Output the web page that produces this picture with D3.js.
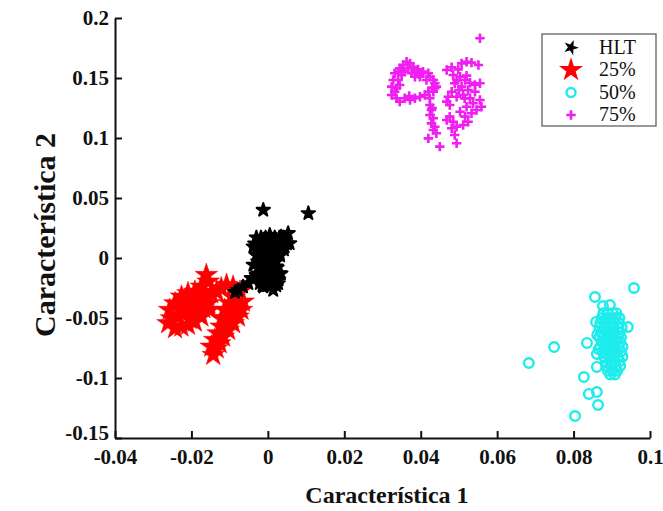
<!DOCTYPE html>
<html><head><meta charset="utf-8">
<script src="https://cdn.jsdelivr.net/npm/d3@7"></script>
<style>body{margin:0;background:#fff}svg{display:block}</style>
</head><body>
<svg id="c" width="663" height="511"></svg>
<script>
const xTicks = [-0.04,-0.02,0,0.02,0.04,0.06,0.08,0.1];
const xTickLabels = ["-0.04","-0.02","0","0.02","0.04","0.06","0.08","0.1"];
const yTicks = [-0.15,-0.1,-0.05,0,0.05,0.1,0.15,0.2];
const yTickLabels = ["-0.15","-0.1","-0.05","0","0.05","0.1","0.15","0.2"];
const seriesNames = ["HLT","25%","50%","75%"];
const xTitle = "Característica 1";
const yTitle = "Característica 2";

const hlt = [[-0.0012,0.0400],[0.0106,0.0372],[0.0005,0.0192],[0.0035,0.0178],[0.0053,0.0206],[0.0057,0.0122],[0.0044,0.0094],[0.0022,0.0150],[-0.0021,0.0136],[-0.0038,0.0094],[-0.0012,0.0094],[0.0014,0.0094],[-0.0004,0.0039],[-0.0030,0.0025],[-0.0017,-0.0017],[0.0014,0.0011],[0.0031,0.0039],[0.0005,-0.0044],[-0.0021,-0.0072],[-0.0038,-0.0058],[-0.0004,-0.0114],[0.0022,-0.0072],[0.0031,-0.0128],[0.0014,-0.0169],[-0.0012,-0.0169],[-0.0030,-0.0142],[0.0005,-0.0225],[0.0027,-0.0211],[-0.0012,-0.0239],[0.0014,-0.0267],[-0.0021,-0.0211],[-0.0043,-0.0169],[-0.0051,-0.0211],[-0.0065,-0.0239],[-0.0078,-0.0267],[-0.0086,-0.0285],
[-0.0030,0.017],[-0.0018,0.017],[-0.0006,0.017],[0.0006,0.017],[0.0018,0.017],[0.0030,0.017],[0.0042,0.017],
[-0.0034,0.012],[-0.0022,0.012],[-0.0010,0.012],[0.0002,0.012],[0.0014,0.012],[0.0026,0.012],[0.0038,0.012],[0.0050,0.012],
[-0.0030,0.007],[-0.0018,0.007],[-0.0006,0.007],[0.0006,0.007],[0.0018,0.007],[0.0030,0.007],[0.0042,0.007],
[-0.0028,0.002],[-0.0016,0.002],[-0.0004,0.002],[0.0008,0.002],[0.0020,0.002],[0.0032,0.002],
[-0.0026,-0.003],[-0.0014,-0.003],[-0.0002,-0.003],[0.0010,-0.003],[0.0022,-0.003],
[-0.0024,-0.008],[-0.0012,-0.008],[0.0000,-0.008],[0.0012,-0.008],[0.0024,-0.008],
[-0.0024,-0.013],[-0.0012,-0.013],[0.0000,-0.013],[0.0012,-0.013],[0.0024,-0.013],[0.0034,-0.013],
[-0.0020,-0.018],[-0.0008,-0.018],[0.0004,-0.018],[0.0016,-0.018],[0.0028,-0.018],
[-0.0014,-0.023],[-0.0002,-0.023],[0.0010,-0.023],[0.0022,-0.023]];

const p25 = [[-0.0161,-0.0142],[-0.0156,-0.0197],[-0.0174,-0.0239],[-0.0191,-0.0281],[-0.0209,-0.0294],[-0.0226,-0.0322],[-0.0243,-0.0378],[-0.0257,-0.0433],[-0.0252,-0.0503],[-0.0261,-0.0544],[-0.0243,-0.0586],[-0.0226,-0.0572],[-0.0209,-0.0558],[-0.0191,-0.0531],[-0.0174,-0.0489],[-0.0200,-0.0461],[-0.0222,-0.0433],[-0.0235,-0.0489],[-0.0213,-0.0378],[-0.0182,-0.0350],[-0.0165,-0.0294],[-0.0156,-0.0378],[-0.0152,-0.0433],[-0.0169,-0.0419],[-0.0187,-0.0406],[-0.0148,-0.0294],[-0.0134,-0.0281],[-0.0122,-0.0253],[-0.0108,-0.0225],[-0.0091,-0.0239],[-0.0073,-0.0281],[-0.0065,-0.0364],[-0.0069,-0.0433],[-0.0078,-0.0489],[-0.0091,-0.0544],[-0.0104,-0.0600],[-0.0117,-0.0656],[-0.0126,-0.0711],[-0.0134,-0.0753],[-0.0143,-0.0808],[-0.0122,-0.0572],[-0.0108,-0.0517],[-0.0095,-0.0461],[-0.0082,-0.0406],[-0.0100,-0.0378],[-0.0113,-0.0433],[-0.0130,-0.0628],[-0.0139,-0.0683],[-0.0148,-0.0739],[-0.0205,-0.0510],[-0.0230,-0.0410],[-0.0180,-0.0450],[-0.0120,-0.0500],[-0.0088,-0.0330]];

const p50 = [[0.0958,-0.0250],[0.0856,-0.0325],[0.0877,-0.0400],[0.0942,-0.0575],[0.0835,-0.0708],[0.0749,-0.0742],[0.0683,-0.0875],[0.0861,-0.0800],[0.0861,-0.0908],[0.0827,-0.0992],[0.0840,-0.1133],[0.0861,-0.1117],[0.0864,-0.1225],[0.0804,-0.1317],[0.0895,-0.0392],[0.0859,-0.0533],[0.0862,-0.0640],[0.0866,-0.0760],
[0.0878,-0.046],[0.0890,-0.046],[0.0902,-0.046],[0.0912,-0.046],
[0.0874,-0.050],[0.0886,-0.050],[0.0898,-0.050],[0.0910,-0.050],[0.0920,-0.050],
[0.0870,-0.054],[0.0882,-0.054],[0.0894,-0.054],[0.0906,-0.054],[0.0918,-0.054],
[0.0868,-0.058],[0.0880,-0.058],[0.0892,-0.058],[0.0904,-0.058],[0.0916,-0.058],[0.0926,-0.058],
[0.0872,-0.062],[0.0884,-0.062],[0.0896,-0.062],[0.0908,-0.062],[0.0920,-0.062],
[0.0868,-0.066],[0.0878,-0.066],[0.0890,-0.066],[0.0902,-0.066],[0.0914,-0.066],[0.0924,-0.066],
[0.0874,-0.070],[0.0886,-0.070],[0.0898,-0.070],[0.0910,-0.070],[0.0922,-0.070],
[0.0870,-0.074],[0.0882,-0.074],[0.0894,-0.074],[0.0906,-0.074],[0.0918,-0.074],[0.0928,-0.074],
[0.0876,-0.078],[0.0888,-0.078],[0.0900,-0.078],[0.0912,-0.078],[0.0924,-0.078],
[0.0880,-0.082],[0.0892,-0.082],[0.0904,-0.082],[0.0916,-0.082],[0.0928,-0.082],
[0.0884,-0.086],[0.0896,-0.086],[0.0908,-0.086],[0.0920,-0.086],
[0.0886,-0.090],[0.0898,-0.090],[0.0910,-0.090],[0.0922,-0.090],
[0.0890,-0.094],[0.0902,-0.094],[0.0914,-0.094],
[0.0896,-0.097],[0.0908,-0.097]];

const p75 = [[0.0363,0.1636],[0.0354,0.1608],[0.0372,0.1622],[0.0345,0.1581],[0.0380,0.1594],[0.0367,0.1581],[0.0393,0.1572],[0.0389,0.1553],[0.0406,0.1553],[0.0420,0.1539],[0.0424,0.1511],[0.0433,0.1483],[0.0437,0.1456],[0.0441,0.1428],[0.0332,0.1539],[0.0328,0.1483],[0.0324,0.1428],[0.0332,0.1386],[0.0324,0.1358],[0.0337,0.1331],[0.0345,0.1303],[0.0358,0.1331],[0.0372,0.1317],[0.0385,0.1331],[0.0398,0.1344],[0.0411,0.1358],[0.0424,0.1331],[0.0420,0.1386],[0.0433,0.1386],[0.0437,0.1414],[0.0341,0.1553],[0.0350,0.1525],[0.0358,0.1553],[0.0376,0.1539],[0.0385,0.1511],[0.0398,0.1511],[0.0415,0.1483],[0.0341,0.1483],[0.0345,0.1442],[0.0337,0.1414],[0.0424,0.1275],[0.0428,0.1233],[0.0424,0.1192],[0.0433,0.1164],[0.0428,0.1122],[0.0437,0.1094],[0.0433,0.1067],[0.0441,0.1039],[0.0420,0.0997],[0.0450,0.0928],[0.0494,0.0956],[0.0489,0.1025],[0.0481,0.1081],[0.0468,0.1150],[0.0476,0.1178],[0.0468,0.1567],[0.0481,0.1589],[0.0498,0.1572],[0.0507,0.1622],[0.0520,0.1636],[0.0533,0.1628],[0.0551,0.1608],[0.0485,0.1525],[0.0503,0.1511],[0.0516,0.1483],[0.0529,0.1461],[0.0542,0.1442],[0.0555,0.1456],[0.0489,0.1456],[0.0507,0.1428],[0.0524,0.1400],[0.0542,0.1386],[0.0555,0.1317],[0.0559,0.1261],[0.0481,0.1386],[0.0472,0.1344],[0.0468,0.1303],[0.0476,0.1275],[0.0494,0.1344],[0.0511,0.1358],[0.0529,0.1331],[0.0537,0.1289],[0.0520,0.1261],[0.0503,0.1219],[0.0516,0.1178],[0.0533,0.1206],[0.0546,0.1233],[0.0524,0.1136],[0.0511,0.1108],[0.0485,0.1136],[0.0494,0.1094],[0.0555,0.1831],[0.0350,0.1570],[0.0395,0.1530],[0.0430,0.1420],[0.0500,0.1400],[0.0515,0.1330],[0.0495,0.1480],[0.0430,0.1250],[0.0520,0.1520],[0.0370,0.1350]];

const svg = d3.select("#c");
const font = "'Liberation Serif','Times New Roman',serif";
const x = d3.scaleLinear().domain([-0.04,0.1]).range([115,650]);
const y = d3.scaleLinear().domain([-0.15,0.2]).range([438,18]);

const xAxis = d3.axisBottom(x).tickValues(xTicks).tickFormat((d,i)=>xTickLabels[i]).tickSizeInner(-7).tickSizeOuter(0).tickPadding(11);
const yAxis = d3.axisLeft(y).tickValues(yTicks).tickFormat((d,i)=>yTickLabels[i]).tickSizeInner(-7).tickSizeOuter(0).tickPadding(6);
const gx = svg.append("g").attr("transform","translate(0,438)").call(xAxis);
const gy = svg.append("g").attr("transform","translate(115,0)").call(yAxis);
[gx,gy].forEach(g=>{
  g.select(".domain").attr("stroke","#111").attr("stroke-width",2);
  g.selectAll(".tick line").attr("stroke","#111").attr("stroke-width",2);
  g.selectAll(".tick text").attr("fill","#111").attr("font-family",font).attr("font-weight","bold").attr("font-size",21);
});
gy.selectAll(".tick text").filter(d=>d===-0.15).attr("y",-5);
svg.append("text").attr("x",387).attr("y",503).attr("text-anchor","middle")
  .attr("font-family",font).attr("font-weight","bold").attr("font-size",24).attr("fill","#111").text(xTitle);
svg.append("text").attr("transform","translate(55,235) rotate(-90)").attr("text-anchor","middle")
  .attr("font-family",font).attr("font-weight","bold").attr("font-size",30).attr("fill","#111").text(yTitle);

const star = d3.symbol().type(d3.symbolStar);
const plusPath = "M-4.7,0H4.7M0,-4.7V4.7";
const plot = svg.append("g");

plot.selectAll(".p25").data(p25).join("path")
  .attr("transform",d=>`translate(${x(d[0])},${y(d[1])})`)
  .attr("d",star.size(160)()).attr("fill","#ff0000").attr("stroke","#ff0000").attr("stroke-width",0.5);
plot.selectAll(".hlt").data(hlt).join("path")
  .attr("transform",d=>`translate(${x(d[0])},${y(d[1])})`)
  .attr("d",star.size(55)()).attr("fill","#000").attr("stroke","#000").attr("stroke-width",2).attr("stroke-linejoin","round");
plot.selectAll(".p50").data(p50).join("circle")
  .attr("cx",d=>x(d[0])).attr("cy",d=>y(d[1])).attr("r",4.8)
  .attr("fill","none").attr("stroke","#1eecec").attr("stroke-width",2.4);
plot.selectAll(".p75").data(p75).join("path")
  .attr("transform",d=>`translate(${x(d[0])},${y(d[1])})`)
  .attr("d",plusPath).attr("fill","none").attr("stroke","#f01ef0").attr("stroke-width",2.6);

const lg = svg.append("g");
lg.append("rect").attr("x",542).attr("y",34).attr("width",114).attr("height",92)
  .attr("fill","#fff").attr("stroke","#555").attr("stroke-width",1.2);
const ly = [47.5,70,92.5,115];
lg.append("path").attr("transform",`translate(571,${ly[0]}) rotate(20)`).attr("d",star.size(45)()).attr("fill","#000").attr("stroke","#000");
lg.append("path").attr("transform",`translate(571,${ly[1]})`).attr("d",star.size(180)()).attr("fill","#ff0000");
lg.append("circle").attr("cx",571).attr("cy",ly[2]).attr("r",4.5).attr("fill","none").attr("stroke","#1eecec").attr("stroke-width",2.4);
lg.append("path").attr("transform",`translate(571,${ly[3]})`).attr("d",plusPath).attr("stroke","#f01ef0").attr("stroke-width",2.6);
seriesNames.forEach((n,i)=>{
  lg.append("text").attr("x",599).attr("y",ly[i]+6).attr("font-family",font).attr("font-size",20).attr("fill","#111").text(n);
});
</script>
</body></html>
